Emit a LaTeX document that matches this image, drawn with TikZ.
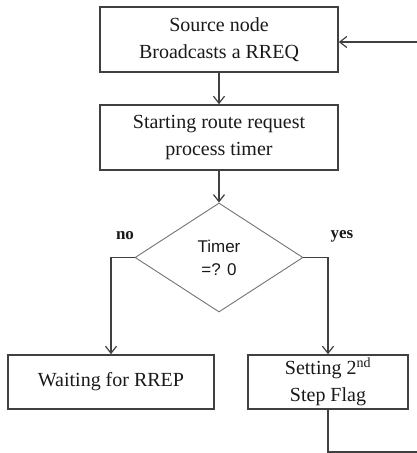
\documentclass[tikz,border=0pt]{standalone}
\usepackage{fontspec}
\setmainfont{Liberation Serif}
\newfontfamily\labelsans{Liberation Sans}
\usetikzlibrary{arrows.meta,shapes.geometric}
\begin{document}
\begin{tikzpicture}[x=1pt,y=-1pt,
  every node/.style={text=black!90},
  procbox/.style={draw=black!75,line width=1.6pt,rectangle,align=center,
    inner sep=0pt,font=\fontsize{20}{27}\selectfont},
  decision/.style={draw=black!55,line width=0.9pt,diamond,align=center,
    inner sep=0pt,minimum width=168pt,minimum height=109pt,
    font=\labelsans\fontsize{17}{23}\selectfont},
  flow/.style={draw=black!75,line width=1.6pt,
    -{Straight Barb[length=7pt,width=11pt,line width=1.2pt]}},
  plain/.style={draw=black!75,line width=1.6pt},
  branch/.style={font=\bfseries\fontsize{17}{20}\selectfont}]
\useasboundingbox (0,0) rectangle (417,453);

% process boxes
\node[procbox,minimum width=238pt,minimum height=65pt] (bcast) at (219,39.5)
  {Source node\\Broadcasts a RREQ};
\node[procbox,minimum width=238pt,minimum height=65pt] (timer) at (219,137.5)
  {Starting route request\\process timer};
\node[decision] (check) at (219,257.5) {Timer\\=? 0};
\node[procbox,minimum width=206pt,minimum height=54pt] (wait) at (111,382)
  {Waiting for RREP};
\node[procbox,minimum width=160pt,minimum height=54pt] (flag) at (328,382)
  {Setting 2\textsuperscript{nd}\\Step Flag};

% branch labels
\node[branch] (nolbl) at (125,236) {no};
\node[branch] (yeslbl) at (342,236) {yes};

% loop ends at the right border
\coordinate (loopin) at (417,42);
\coordinate (loopout) at (417,452);

% connectors
\draw[flow] (loopin) -- (loopin -| bcast.east);
\draw[flow] (bcast.south) -- (timer.north);
\draw[flow] (timer.south) -- (check.north);
\draw[flow] (check.west) -| (wait.north);
\draw[flow] (check.east) -| (flag.north);
\draw[plain] (flag.south) |- (loopout);
\end{tikzpicture}
\end{document}
